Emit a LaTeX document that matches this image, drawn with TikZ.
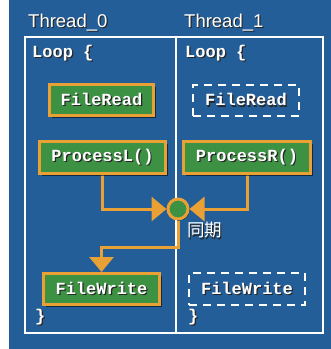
\documentclass[tikz,border=0pt]{standalone}
\usepackage{fontspec}
\setmainfont{Liberation Sans}
\setmonofont{Liberation Mono}
\newfontfamily\cjk{Noto Sans CJK JP}
\usetikzlibrary{arrows.meta,shadows}

\definecolor{bgblue}{RGB}{36,94,152}
\definecolor{boxorange}{RGB}{233,160,53}
\definecolor{boxgreen}{RGB}{61,145,66}

% white text with a small dark shadow behind it
\newcommand\shtext[1]{\rlap{\kern1.2pt\raisebox{-1.2pt}{\color{black!85}#1}}#1}

\pgfdeclarelayer{wires}
\pgfsetlayers{wires,main}

\tikzset{
  x=1pt, y=-1pt,
  title/.style={anchor=base west, inner sep=0, text=white, font=\fontsize{18.5}{18.5}\selectfont},
  code/.style={anchor=base west, inner sep=0, text=white, font=\ttfamily\bfseries\fontsize{17}{17}\selectfont},
  procbox/.style={draw=boxorange, line width=3pt, fill=boxgreen, inner sep=0,
    text=white, font=\ttfamily\bfseries\fontsize{17}{17}\selectfont,
    drop shadow={shadow xshift=2pt, shadow yshift=-2pt, fill=black, opacity=0.55}},
  idlebox/.style={draw=white, line width=2pt, dash pattern=on 8pt off 6pt, inner sep=0,
    text=white, font=\ttfamily\bfseries\fontsize{17}{17}\selectfont},
  syncdot/.style={circle, draw=boxorange, line width=3pt, fill=boxgreen,
    minimum size=20pt, inner sep=0,
    drop shadow={shadow xshift=1.5pt, shadow yshift=-1.5pt, fill=black, opacity=0.55}},
  conn/.style={draw=boxorange, line width=3pt,
    -{Triangle[length=15pt, width=24pt, fill=boxorange]}},
  frame/.style={draw=white, line width=2pt},
}

\begin{document}
\begin{tikzpicture}
\useasboundingbox (0,0) rectangle (331,349);

\node[title] (t0) at (28,27) {\shtext{Thread\_0}};
\node[title] (t1) at (184,27) {\shtext{Thread\_1}};

\node[code] (loopl) at (32,57) {\shtext{Loop \{}};
\node[code] (loopr) at (185,57) {\shtext{Loop \{}};
\node[code] (endl) at (35,321) {\shtext{\}}};
\node[code] (endr) at (188,321) {\shtext{\}}};

% left thread
\node[procbox, minimum width=104pt, minimum height=31pt] (frl) at (101.5,100) {\shtext{FileRead}};
\node[procbox, minimum width=126pt, minimum height=32pt] (pl) at (102.5,157.5) {\shtext{ProcessL()}};
\node[procbox, minimum width=116pt, minimum height=31pt] (fwl) at (101.5,289) {\shtext{FileWrite}};

% right thread
\node[idlebox, minimum width=106pt, minimum height=31pt] (frr) at (246,100.5) {\shtext{FileRead}};
\node[procbox, minimum width=127pt, minimum height=32pt] (pr) at (247,157.5) {\shtext{ProcessR()}};
\node[idlebox, minimum width=116pt, minimum height=32pt] (fwr) at (247,289) {\shtext{FileWrite}};

% synchronisation point
\node[syncdot] (sync) at (178,209) {};
\node[anchor=west, inner sep=0, text=white, font=\cjk\fontsize{17.5}{17.5}\selectfont] (synclbl) at (187,231) {\shtext{同期}};

\coordinate (bend) at (178,247);

% background, frame and connectors sit beneath the boxes
\begin{pgfonlayer}{wires}
  \fill[bgblue] (9,0) rectangle (331,349);
  \draw[frame] (25,37) rectangle (323,333);
  \draw[frame] (176,37) -- (176,333);
  \draw[conn] (pl.south) |- (sync);
  \draw[conn] (pr.south) |- (sync);
  \draw[conn] (sync.south) -- (bend) -| (fwl.north);
\end{pgfonlayer}
\end{tikzpicture}
\end{document}
